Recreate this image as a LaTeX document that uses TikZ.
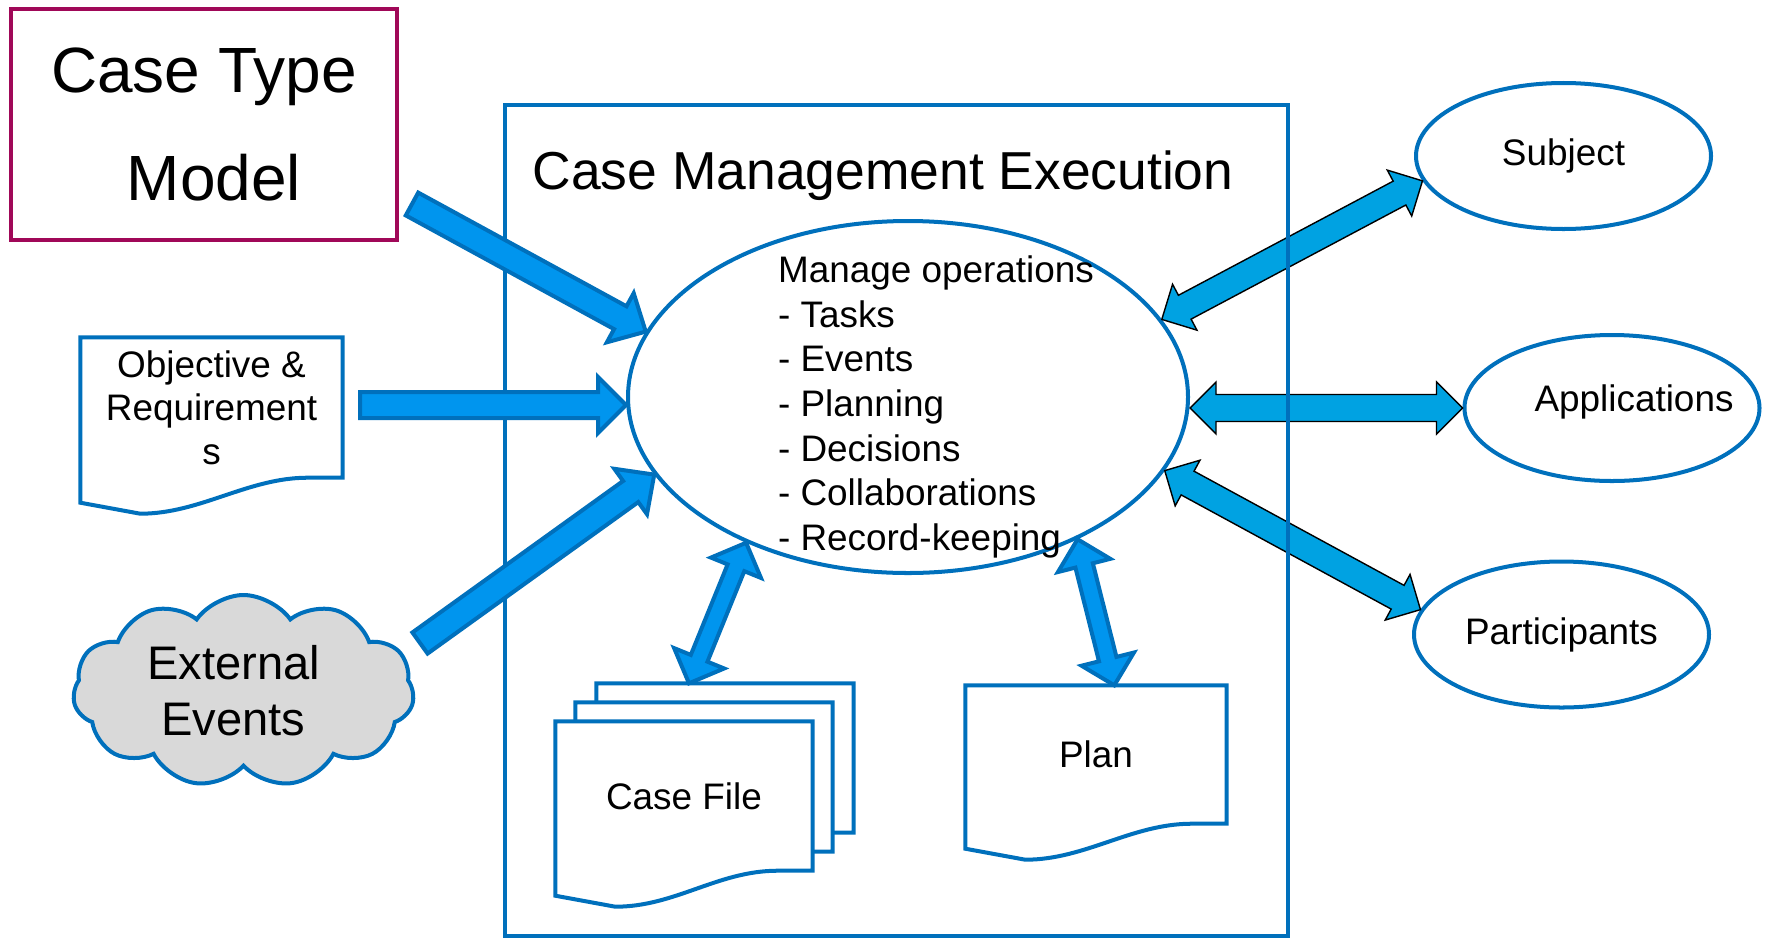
\documentclass[tikz,border=0pt]{standalone}
\usepackage{fontspec}
\setmainfont{Liberation Sans}
\usepackage{tikz}
\usetikzlibrary{shapes.geometric,shapes.symbols,positioning,calc,backgrounds}
\tikzset{every node/.append style={align=center}}
\definecolor{framecolor}{RGB}{0, 112, 188}
\definecolor{modelcolor}{RGB}{160, 8, 88}
\definecolor{inputcolor}{RGB}{0, 149, 238}
\definecolor{linkcolor}{RGB}{0, 162, 226}
\definecolor{cloudcolor}{RGB}{217, 217, 217}

% block arrow: style, tail, tip, half shaft, half head, head length
\newcommand{\blockarrow}[6]{%
  \coordinate (fa-s) at (#2);
  \coordinate (fa-e) at (#3);
  \coordinate (fa-h) at ($(fa-e)!#6!(fa-s)$);
  \draw[#1] ($(fa-s)!#4!90:(fa-e)$) -- ($(fa-h)!#4!90:(fa-e)$) -- ($(fa-h)!#5!90:(fa-e)$)
    -- (fa-e) -- ($(fa-h)!#5!-90:(fa-e)$) -- ($(fa-h)!#4!-90:(fa-e)$) -- ($(fa-s)!#4!-90:(fa-e)$) -- cycle;
}
% same with a head on both ends
\newcommand{\blockboth}[6]{%
  \coordinate (fa-s) at (#2);
  \coordinate (fa-e) at (#3);
  \coordinate (fa-a) at ($(fa-s)!#6!(fa-e)$);
  \coordinate (fa-b) at ($(fa-e)!#6!(fa-s)$);
  \draw[#1] (fa-s) -- ($(fa-a)!#5!90:(fa-e)$) -- ($(fa-a)!#4!90:(fa-e)$) -- ($(fa-b)!#4!90:(fa-e)$)
    -- ($(fa-b)!#5!90:(fa-e)$) -- (fa-e) -- ($(fa-b)!#5!-90:(fa-e)$) -- ($(fa-b)!#4!-90:(fa-e)$)
    -- ($(fa-a)!#4!-90:(fa-e)$) -- ($(fa-a)!#5!-90:(fa-e)$) -- cycle;
}
% document outline with wavy bottom around a node
\newcommand{\docoutline}[1]{%
  \path[docline] (#1.north west) -- (#1.north east) -- (#1.south east)
    -- ($(#1.south east)+(-0.35,0)$) .. controls +(-0.6,0) and +(0.6,0) .. ($(#1.south west)+(0.6,-0.36)$)
    -- ($(#1.south west)+(0,-0.25)$) -- cycle;
}

\begin{document}
\begin{tikzpicture}[
    modelbox/.style={draw=modelcolor, line width=1.4pt, minimum width=3.86cm, minimum height=2.31cm, inner sep=0pt, font=\fontsize{18.2}{30.7}\selectfont},
    execframe/.style={draw=framecolor, line width=1.14pt, minimum width=7.83cm, minimum height=8.31cm, inner sep=0pt},
    opsellipse/.style={ellipse, draw=framecolor, line width=1.14pt, minimum width=5.6cm, minimum height=3.52cm, inner sep=0pt},
    sidebox/.style={ellipse, draw=framecolor, line width=1.14pt, minimum width=2.95cm, minimum height=1.46cm, inner sep=0pt, font=\fontsize{10.5}{12.6}\selectfont},
    docbox/.style={rectangle, inner sep=0pt, font=\fontsize{10.5}{12.4}\selectfont},
    docline/.style={draw=framecolor, fill=white, line width=1.14pt},
    cloudbox/.style={cloud, cloud puffs=11, cloud puff arc=110, cloud ignores aspect, draw=framecolor, fill=cloudcolor, line width=1.14pt, minimum width=3.41cm, minimum height=1.92cm, inner sep=0pt, font=\fontsize{13.4}{16}\selectfont},
    inarrow/.style={draw=framecolor, fill=inputcolor, line width=1.14pt},
    linkarrow/.style={draw=black, fill=linkcolor, line width=0.4pt}
]
    \useasboundingbox (0,0) rectangle (17.67,9.37);

    % Sources on the left
    \node[modelbox] (ctm) at (2.04,8.125) {Case Type\\\hspace*{0.2cm}Model};
    \node[docbox, minimum width=2.61cm, minimum height=1.39cm] (obj) at (2.115,5.295) {Objective \&\\Requirement\\s};
    \node[cloudbox] (ext) at (2.435,2.46) {External\hspace*{0.2cm}\\Events\hspace*{0.2cm}};

    % Operations
    \node[opsellipse] (ops) at (9.08,5.40) {};
    \node[font=\fontsize{10.5}{12.7}\selectfont, align=left, inner sep=0pt] (opslist) at ($(ops.center)+(0.28,-0.10)$)
        {Manage operations\\- Tasks\\- Events\\- Planning\\- Decisions\\- Collaborations\\- Record-keeping};

    % Case file stack and plan
    \node[docbox, minimum width=2.56cm, minimum height=1.48cm] (cf) at (6.84,1.41) {Case File};
    \node[docbox, minimum width=2.56cm, minimum height=1.48cm] (cf2) at (7.04,1.60) {};
    \node[docbox, minimum width=2.56cm, minimum height=1.48cm] (cf1) at (7.25,1.79) {};
    \node[docbox, minimum width=2.60cm, minimum height=1.37cm] (plan) at (10.96,1.825) {Plan};

    \begin{scope}[on background layer]
        \docoutline{cf1}
        \docoutline{cf2}
        \docoutline{cf}
        \docoutline{obj}
        \docoutline{plan}
    \end{scope}

    % Parties on the right
    \node[sidebox] (subj) at (15.635,7.81) {Subject};
    \node[sidebox] (app) at (16.12,5.29) {};
    \node[font=\fontsize{10.5}{12.6}\selectfont, inner sep=0pt] (applabel) at ($(app.center)+(0.22,0.06)$) {Applications};
    \node[sidebox] (part) at (15.615,3.025) {Participants};

    \blockboth{linkarrow}{ops.17}{subj.190}{0.135cm}{0.26cm}{0.26cm}
    \blockboth{linkarrow}{ops.east |- app.west}{app.west}{0.135cm}{0.26cm}{0.26cm}
    \blockboth{linkarrow}{ops.344}{part.170}{0.135cm}{0.26cm}{0.26cm}

    % Frame
    \node[execframe] (exec) at (8.965,4.165) {};
    \node[anchor=base west, inner sep=0pt, font=\fontsize{15.2}{18}\selectfont] (title) at (5.32,7.48) {Case Management Execution};

    % Inputs
    \coordinate (ctm-out) at (4.12,7.33);
    \coordinate (obj-out) at (3.60,5.32);
    \coordinate (ext-out) at (4.20,2.94);
    \blockarrow{inarrow}{ctm-out}{ops.166}{0.13cm}{0.28cm}{0.29cm}
    \blockarrow{inarrow}{obj-out}{ops.west |- obj-out}{0.13cm}{0.28cm}{0.28cm}
    \blockarrow{inarrow}{ext-out}{ops.197}{0.13cm}{0.28cm}{0.29cm}

    % Case file and plan links
    \coordinate (cf-in) at ($(cf1.north west)!0.36!(cf1.north east)$);
    \coordinate (plan-in) at ($(plan.north west)!0.57!(plan.north east)$);
    \blockboth{inarrow}{ops.222}{cf-in}{0.09cm}{0.27cm}{0.27cm}
    \blockboth{inarrow}{ops.320}{plan-in}{0.09cm}{0.27cm}{0.27cm}

\end{tikzpicture}
\end{document}
